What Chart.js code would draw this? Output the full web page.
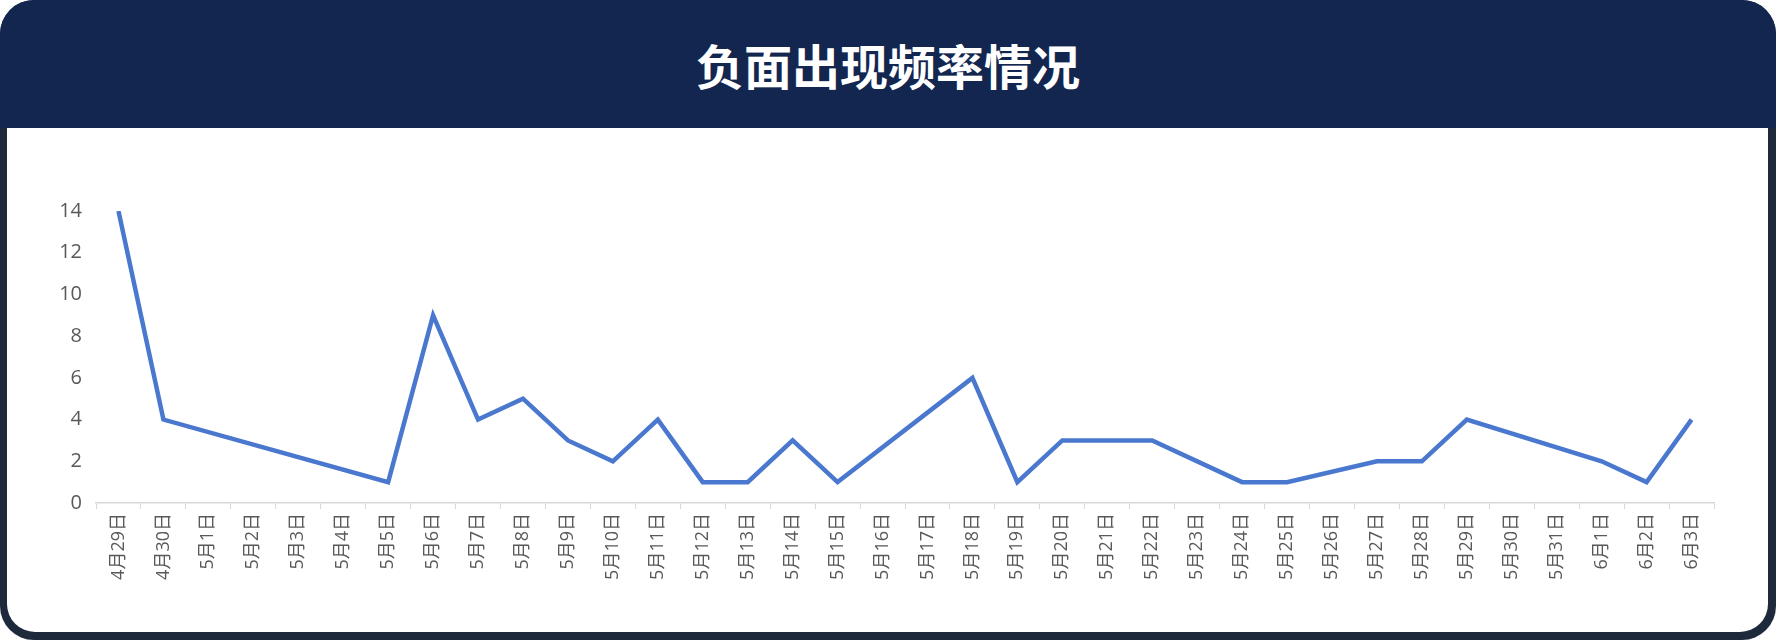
<!DOCTYPE html>
<html>
<head>
<meta charset="utf-8">
<script src="https://cdn.jsdelivr.net/npm/chart.js@4.4.1/dist/chart.umd.min.js"></script>
<style>
    html, body { margin: 0; padding: 0; background: #fff; }
    .card {
        position: relative;
        width: 1776px;
        height: 640px;
        background: #1e2a3b;
        border-radius: 34px;
        overflow: hidden;
    }
    .header {
        position: absolute;
        left: 0; top: 0; right: 0;
        height: 128px;
        background: #132650;
        color: #fff;
        font-family: 'Noto Sans CJK SC', sans-serif;
        font-weight: bold;
        font-size: 48px;
        line-height: 128px;
        text-align: center;
    }
    .body {
        position: absolute;
        left: 7px; top: 128px; right: 8px; bottom: 8px;
        background: #fff;
        border-radius: 0 0 28px 28px;
    }
</style>
</head>
<body>
<div class="card">
    <div class="header">负面出现频率情况</div>
    <div class="body">
        <canvas id="freqChart"></canvas>
    </div>
</div>
<script>
const dateLabels = [
    '4月29日', '4月30日',
    '5月1日', '5月2日', '5月3日', '5月4日', '5月5日', '5月6日', '5月7日', '5月8日',
    '5月9日', '5月10日', '5月11日', '5月12日', '5月13日', '5月14日', '5月15日', '5月16日',
    '5月17日', '5月18日', '5月19日', '5月20日', '5月21日', '5月22日', '5月23日', '5月24日',
    '5月25日', '5月26日', '5月27日', '5月28日', '5月29日', '5月30日', '5月31日',
    '6月1日', '6月2日', '6月3日'
];

// days without a value are null, the line just spans over them
const negativeCounts = [
    14, 4,
    null, null, null, null, 1, 9, 4, 5,
    3, 2, 4, 1, 1, 3, 1, null,
    null, 6, 1, 3, 3, 3, null, 1,
    1, null, 2, 2, 4, null, null,
    2, 1, 4
];

const yTicks = [0, 2, 4, 6, 8, 10, 12, 14];

const tickFont = "'Open Sans', 'Noto Sans CJK SC', sans-serif";

document.addEventListener('DOMContentLoaded', function() {
    const ctx = document.getElementById('freqChart').getContext('2d');
    const box = document.querySelector('.body');
    ctx.canvas.width = box.clientWidth;
    ctx.canvas.height = box.clientHeight;

    new Chart(ctx, {
        type: 'line',
        data: {
            labels: dateLabels,
            datasets: [{
                label: '负面',
                data: negativeCounts,
                borderColor: '#4a78cf',
                borderWidth: 4.5,
                pointRadius: 0,
                tension: 0,
                spanGaps: true
            }]
        },
        options: {
            responsive: false,
            animation: false,
            layout: {
                padding: { top: 83, right: 54, bottom: 0, left: 0 }
            },
            plugins: {
                legend: { display: false },
                tooltip: { enabled: false }
            },
            scales: {
                x: {
                    offset: true,
                    grid: {
                        offset: true,
                        drawOnChartArea: false,
                        drawTicks: true,
                        tickLength: 6,
                        color: '#d9d9d9'
                    },
                    border: { display: true, color: '#d9d9d9', width: 1.5 },
                    ticks: {
                        autoSkip: false,
                        minRotation: 90,
                        maxRotation: 90,
                        padding: 4,
                        color: '#595959',
                        font: { family: tickFont, size: 18 }
                    },
                    afterFit: function(scale) { scale.height = 129; }
                },
                y: {
                    min: 0,
                    max: 14,
                    grid: { display: false, drawTicks: false },
                    border: { display: false },
                    afterBuildTicks: function(scale) {
                        scale.ticks = yTicks.map(v => ({ value: v }));
                    },
                    ticks: {
                        padding: 14,
                        color: '#595959',
                        font: { family: tickFont, size: 20 }
                    },
                    afterFit: function(scale) { scale.width = 89; }
                }
            }
        }
    });
});
</script>
</body>
</html>
